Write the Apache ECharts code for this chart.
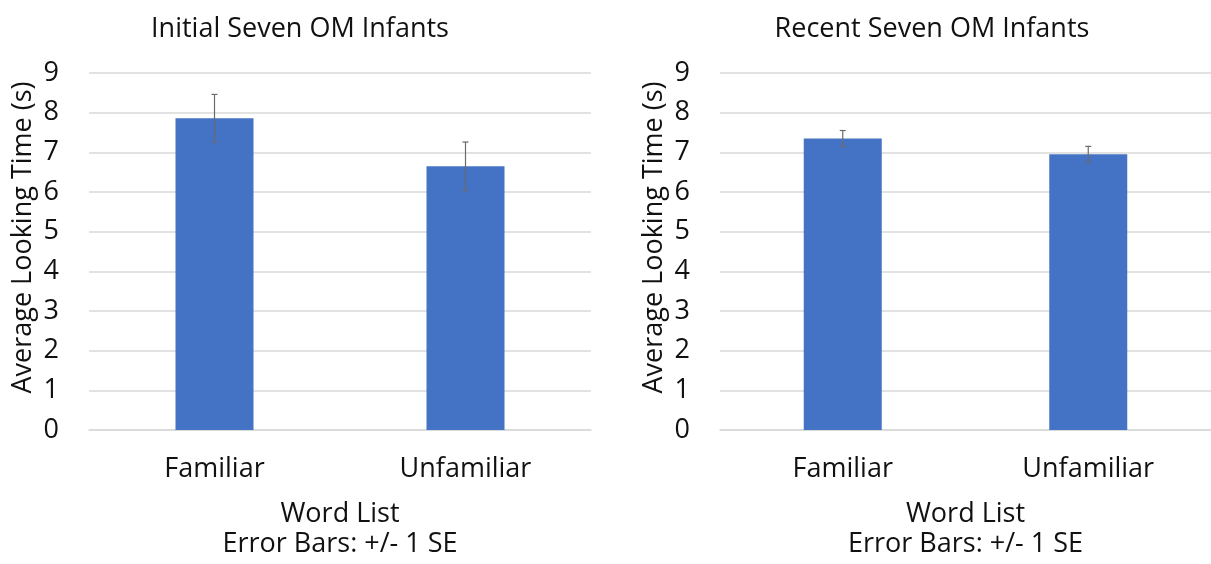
<!DOCTYPE html>
<html>
<head>
<meta charset="utf-8">
<script src="https://cdn.jsdelivr.net/npm/echarts@6/dist/echarts.min.js"></script>
<style>
html,body{margin:0;padding:0;background:#fff;}
#chart{width:1211px;height:564px;}
</style>
</head>
<body>
<div id="chart"></div>
<script>
const categories = ['Familiar', 'Unfamiliar'];
const titles = ['Initial Seven OM Infants', 'Recent Seven OM Infants'];
const initialMeans = [7.86, 6.65];
const initialSE = [0.60, 0.61];
const recentMeans = [7.35, 6.95];
const recentSE = [0.20, 0.20];
const yTicks = [0, 1, 2, 3, 4, 5, 6, 7, 8, 9];

const FONT = '"Open Sans", Lato, sans-serif';
const FS = 27;
const TEXT = '#111';
const chart = echarts.init(document.getElementById('chart'));

function errData(means, se) {
  return means.map((m, i) => [i, m - se[i], m + se[i]]);
}
function errRender(params, api) {
  const x = api.value(0);
  const lo = api.coord([x, api.value(1)]);
  const hi = api.coord([x, api.value(2)]);
  const cap = 3;
  const style = { stroke: '#6b6b6b', lineWidth: 1.2 };
  return {
    type: 'group',
    children: [
      { type: 'line', shape: { x1: lo[0], y1: lo[1], x2: hi[0], y2: hi[1] }, style },
      { type: 'line', shape: { x1: lo[0] - cap, y1: lo[1], x2: lo[0] + cap, y2: lo[1] }, style },
      { type: 'line', shape: { x1: hi[0] - cap, y1: hi[1], x2: hi[0] + cap, y2: hi[1] }, style }
    ]
  };
}

function xAxis(gi) {
  return {
    type: 'category', gridIndex: gi, data: categories,
    axisLine: { lineStyle: { color: '#d9d9d9', width: 1.5 } },
    axisTick: { show: false },
    axisLabel: { color: TEXT, fontSize: FS, fontFamily: FONT, margin: 26 },
    name: 'Word List\nError Bars: +/- 1 SE',
    nameLocation: 'middle', nameGap: 69,
    nameTextStyle: { color: TEXT, fontSize: FS, fontFamily: FONT, lineHeight: 30 }
  };
}
function yAxis(gi) {
  return {
    type: 'value', gridIndex: gi, min: yTicks[0], max: yTicks[yTicks.length - 1], interval: 1,
    axisLine: { show: false }, axisTick: { show: false },
    splitLine: { lineStyle: { color: '#d9d9d9', width: 1.5 } },
    axisLabel: { color: TEXT, fontSize: FS, fontFamily: FONT, margin: 30 },
    name: 'Average Looking Time (s)', nameLocation: 'middle', nameGap: 52,
    nameTextStyle: { color: TEXT, fontSize: FS, fontFamily: FONT, padding: [0, 0, 0, 28] }
  };
}

chart.setOption({
  animation: false,
  title: [
    { text: titles[0], left: 295, top: 11, textAlign: 'center', textStyle: { color: TEXT, fontSize: FS, fontWeight: 'normal', fontFamily: FONT } },
    { text: titles[1], left: 927, top: 11, textAlign: 'center', textStyle: { color: TEXT, fontSize: FS, fontWeight: 'normal', fontFamily: FONT } }
  ],
  grid: [
    { left: 89, right: 620, top: 73, bottom: 134 },
    { left: 720, right: -13, top: 73, bottom: 134 }
  ],
  xAxis: [xAxis(0), xAxis(1)],
  yAxis: [yAxis(0), yAxis(1)],
  series: [
    { type: 'bar', xAxisIndex: 0, yAxisIndex: 0, data: initialMeans, barWidth: 78, itemStyle: { color: '#4472C4' } },
    { type: 'custom', xAxisIndex: 0, yAxisIndex: 0, data: errData(initialMeans, initialSE), renderItem: errRender, z: 10 },
    { type: 'bar', xAxisIndex: 1, yAxisIndex: 1, data: recentMeans, barWidth: 78, itemStyle: { color: '#4472C4' } },
    { type: 'custom', xAxisIndex: 1, yAxisIndex: 1, data: errData(recentMeans, recentSE), renderItem: errRender, z: 10 }
  ]
});
</script>
</body>
</html>
